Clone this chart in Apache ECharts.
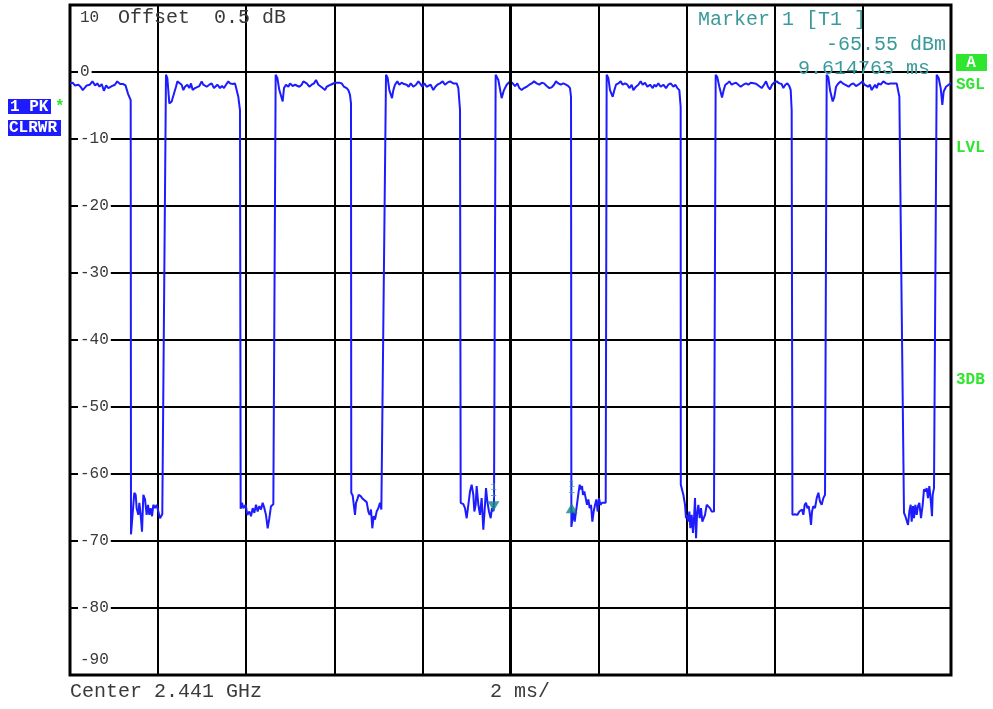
<!DOCTYPE html>
<html>
<head>
<meta charset="utf-8">
<script src="https://cdn.jsdelivr.net/npm/echarts@6/dist/echarts.min.js"></script>
<style>
  html, body { margin: 0; padding: 0; background: #fff; }
  #chart { width: 993px; height: 709px; }
</style>
</head>
<body>
<div id="chart"></div>
<script>
// Zero-span sweep, 2 ms/div, reference level +10 dB, 10 dB/div.
// Trace vertices as [time in ms, level in dB], one array per burst slot.
const slot0 = [
  [0.00,-1.7],[0.06,-1.6],[0.11,-2.0],[0.19,-1.9],[0.24,-2.2],[0.29,-2.7],[0.38,-2.0],[0.45,-1.9],
  [0.51,-1.4],[0.57,-2.0],[0.62,-1.7],[0.67,-2.2],[0.72,-1.8],[0.77,-2.8],[0.82,-2.0],[0.87,-2.4],
  [0.95,-2.1],[1.02,-1.9],[1.07,-1.4],[1.14,-1.8],[1.21,-1.8],[1.26,-2.0],[1.32,-3.3],[1.378,-4.2],
  [1.385,-69.0],[1.423,-68.8],[1.460,-62.8],[1.491,-63.1],[1.513,-65.1],[1.551,-66.1],[1.574,-64.3],
  [1.604,-66.1],[1.635,-68.6],[1.665,-63.1],[1.703,-63.8],[1.740,-66.1],[1.771,-64.6],[1.801,-66.1],
  [1.831,-65.1],[1.862,-66.3],[1.892,-64.6],[1.930,-65.1],[1.967,-64.6],[2.005,-64.8],[2.043,-66.6],
  [2.081,-66.8],[2.095,-66.0]
];
const slot1 = [
  [2.179,-0.4],[2.210,-0.9],[2.255,-4.7],[2.308,-4.4],[2.361,-3.2],[2.406,-2.2],[2.437,-1.4],[2.482,-1.6],
  [2.535,-1.9],[2.573,-2.7],[2.611,-2.2],[2.664,-1.9],[2.709,-2.4],[2.747,-1.7],[2.785,-2.7],[2.838,-2.4],
  [2.876,-2.2],[2.936,-2.1],[2.989,-1.4],[3.027,-1.9],[3.065,-1.7],[3.103,-2.2],[3.163,-1.9],[3.216,-1.7],
  [3.269,-2.4],[3.307,-2.2],[3.345,-1.9],[3.405,-2.4],[3.451,-2.1],[3.496,-2.4],[3.541,-1.9],[3.594,-1.4],
  [3.632,-1.7],[3.693,-1.8],[3.746,-1.7],[3.784,-1.9],[3.821,-3.7],[3.859,-5.7],
  [3.874,-65.2],[3.905,-64.3],[3.935,-65.1],[3.988,-64.6],[4.026,-66.1],[4.071,-65.6],[4.109,-66.3],
  [4.147,-65.1],[4.185,-65.8],[4.222,-64.6],[4.260,-65.6],[4.298,-64.8],[4.336,-65.3],[4.374,-64.3],
  [4.412,-65.1],[4.449,-66.1],[4.487,-68.1],[4.525,-66.6],[4.563,-64.8],[4.601,-64.8],[4.616,-64.5]
];
const slot2 = [
  [4.669,-0.4],[4.707,-0.9],[4.752,-2.7],[4.828,-4.4],[4.858,-2.4],[4.904,-1.9],[4.957,-2.2],[4.994,-1.7],
  [5.055,-2.1],[5.108,-1.9],[5.146,-1.7],[5.206,-2.2],[5.259,-1.9],[5.297,-1.4],[5.373,-1.7],[5.433,-2.2],
  [5.486,-1.9],[5.539,-1.7],[5.585,-1.2],[5.638,-1.9],[5.675,-1.7],[5.736,-2.4],[5.789,-2.7],[5.827,-2.2],
  [5.865,-2.4],[5.918,-1.9],[5.963,-1.7],[6.016,-1.6],[6.054,-1.4],[6.114,-1.6],[6.167,-1.7],[6.220,-2.2],
  [6.281,-2.4],[6.319,-2.7],[6.356,-3.4],[6.379,-4.7],
  [6.385,-62.8],[6.417,-63.2],[6.440,-63.1],[6.470,-66.1],[6.493,-64.3],[6.523,-63.8],[6.553,-63.1],
  [6.599,-63.3],[6.644,-63.7],[6.689,-63.8],[6.735,-64.2],[6.773,-65.6],[6.803,-66.1],[6.833,-65.3],
  [6.863,-68.1],[6.894,-66.3],[6.924,-66.8],[6.962,-65.6],[7.000,-65.1],[7.037,-64.3],[7.068,-65.3],
  [7.098,-65.3]
];
const slot3 = [
  [7.174,-0.4],[7.212,-0.9],[7.249,-2.7],[7.310,-3.9],[7.340,-2.7],[7.378,-1.9],[7.431,-1.4],[7.476,-1.9],
  [7.529,-1.6],[7.582,-1.8],[7.643,-1.9],[7.688,-2.2],[7.734,-1.7],[7.794,-2.2],[7.855,-1.9],[7.908,-1.4],
  [7.946,-1.7],[7.998,-2.2],[8.044,-1.7],[8.097,-2.2],[8.142,-2.4],[8.188,-1.9],[8.248,-2.7],[8.294,-2.2],
  [8.339,-1.9],[8.400,-1.7],[8.460,-1.4],[8.513,-1.9],[8.566,-1.6],[8.627,-1.4],[8.702,-1.7],[8.778,-1.7],
  [8.816,-2.4],[8.854,-5.7],
  [8.869,-64.3],[8.929,-64.5],[8.967,-65.1],[9.005,-66.6],[9.043,-64.6],[9.081,-62.6],[9.118,-61.6],
  [9.156,-63.1],[9.179,-65.6],[9.209,-64.6],[9.232,-61.8],[9.270,-64.6],[9.307,-66.1],[9.345,-63.6],
  [9.383,-68.3],[9.421,-64.6],[9.444,-62.1],[9.474,-64.1],[9.512,-65.6],[9.550,-66.6],[9.580,-65.1],
  [9.614763,-65.55],[9.626,-64.0]
];
const slot4 = [
  [9.663,-0.4],[9.724,-1.2],[9.799,-3.9],[9.852,-2.7],[9.913,-1.9],[9.989,-1.4],[10.050,-1.7],[10.103,-2.1],
  [10.155,-1.7],[10.201,-2.4],[10.254,-2.7],[10.307,-2.4],[10.367,-2.2],[10.428,-1.9],[10.481,-1.7],
  [10.534,-1.4],[10.594,-1.7],[10.655,-1.9],[10.708,-1.6],[10.761,-1.7],[10.821,-2.1],[10.882,-2.4],
  [10.935,-2.3],[10.988,-1.9],[11.033,-1.4],[11.086,-1.7],[11.139,-1.9],[11.200,-1.7],[11.260,-1.9],
  [11.313,-2.1],[11.351,-2.4],[11.374,-3.7],
  [11.382,-67.9],[11.427,-65.6],[11.457,-67.1],[11.487,-65.6],[11.518,-64.1],[11.548,-62.6],[11.571,-61.6],
  [11.601,-62.3],[11.624,-61.8],[11.646,-63.1],[11.676,-62.6],[11.707,-63.6],[11.737,-64.6],[11.767,-63.8],
  [11.797,-65.1],[11.828,-64.6],[11.858,-67.1],[11.888,-65.6],[11.919,-64.6],[11.949,-63.8],[11.979,-65.6],
  [12.009,-63.6],[12.040,-64.6],[12.078,-64.3],[12.123,-64.3],[12.161,-64.3]
];
const slot5 = [
  [12.183,-0.4],[12.221,-0.9],[12.259,-2.7],[12.320,-3.7],[12.358,-2.7],[12.395,-1.9],[12.448,-1.7],
  [12.501,-1.4],[12.547,-1.9],[12.600,-1.7],[12.653,-1.9],[12.698,-2.4],[12.751,-1.9],[12.789,-2.7],
  [12.849,-2.2],[12.902,-1.9],[12.955,-1.4],[13.001,-1.9],[13.054,-1.6],[13.107,-2.2],[13.167,-1.9],
  [13.228,-2.4],[13.266,-1.9],[13.303,-2.2],[13.356,-1.7],[13.409,-2.2],[13.470,-1.9],[13.530,-2.4],
  [13.583,-1.9],[13.636,-1.7],[13.697,-2.2],[13.742,-1.9],[13.788,-2.4],[13.833,-2.7],[13.863,-5.2],
  [13.866,-61.6],[13.924,-63.1],[13.962,-64.6],[13.984,-66.6],[14.015,-66.1],[14.037,-67.1],[14.060,-65.6],
  [14.083,-68.1],[14.113,-66.1],[14.143,-68.8],[14.166,-66.6],[14.189,-63.6],[14.212,-69.6],[14.234,-66.1],
  [14.265,-64.6],[14.295,-66.6],[14.325,-65.1],[14.355,-67.1],[14.386,-66.6],[14.416,-66.1],[14.454,-64.6],
  [14.491,-64.8],[14.529,-65.1],[14.567,-65.6],[14.620,-65.6]
];
const slot6 = [
  [14.658,-0.4],[14.696,-0.8],[14.741,-2.2],[14.802,-3.8],[14.840,-2.7],[14.877,-1.9],[14.923,-1.7],
  [14.968,-1.4],[15.021,-1.9],[15.074,-1.7],[15.120,-1.6],[15.173,-1.9],[15.226,-2.2],[15.286,-1.9],
  [15.347,-1.7],[15.400,-1.9],[15.453,-1.6],[15.498,-1.4],[15.551,-1.7],[15.604,-1.9],[15.649,-1.7],
  [15.702,-2.4],[15.755,-1.9],[15.801,-1.4],[15.846,-2.2],[15.891,-2.6],[15.937,-1.9],[15.982,-1.6],
  [16.043,-1.4],[16.103,-1.7],[16.156,-1.8],[16.194,-2.4],[16.239,-1.9],[16.285,-1.7],[16.330,-2.1],
  [16.361,-2.7],[16.383,-5.7],
  [16.400,-66.1],[16.459,-66.0],[16.512,-66.1],[16.557,-65.6],[16.588,-65.8],[16.618,-65.3],[16.648,-66.1],
  [16.678,-64.6],[16.709,-64.3],[16.739,-65.1],[16.769,-64.8],[16.799,-66.1],[16.822,-67.6],[16.845,-65.6],
  [16.875,-64.8],[16.913,-65.1],[16.951,-63.6],[16.989,-62.8],[17.026,-64.1],[17.064,-64.6],[17.102,-63.6],
  [17.140,-63.1]
];
const slot7 = [
  [17.178,-0.4],[17.216,-0.8],[17.253,-2.7],[17.314,-4.4],[17.352,-3.7],[17.390,-2.2],[17.443,-1.7],
  [17.496,-1.4],[17.541,-1.7],[17.594,-1.9],[17.632,-1.7],[17.677,-2.2],[17.723,-1.9],[17.783,-1.7],
  [17.844,-2.1],[17.897,-1.9],[17.935,-1.7],[17.995,-1.4],[18.033,-1.9],[18.071,-1.7],[18.124,-2.2],
  [18.161,-1.9],[18.199,-2.7],[18.237,-2.3],[18.275,-1.9],[18.313,-2.4],[18.351,-1.7],[18.404,-1.9],
  [18.464,-1.4],[18.525,-1.7],[18.578,-1.8],[18.631,-1.7],[18.691,-1.7],[18.767,-1.7],[18.805,-1.9],
  [18.828,-3.7],[18.880,-35.0],
  [18.933,-65.8],[18.964,-66.3],[18.994,-66.1],[19.024,-67.6],[19.054,-65.6],[19.085,-64.6],[19.107,-67.1],
  [19.138,-64.8],[19.160,-66.6],[19.191,-64.6],[19.221,-66.1],[19.251,-64.8],[19.281,-64.3],[19.319,-66.6],
  [19.357,-64.6],[19.387,-62.3],[19.418,-62.6],[19.448,-62.1],[19.478,-63.6],[19.508,-61.8],[19.538,-63.8],
  [19.569,-66.3],[19.584,-63.1],[19.614,-62.1]
];
const slot8 = [
  [19.675,-0.4],[19.720,-0.9],[19.766,-2.4],[19.803,-4.9],[19.834,-2.9],[19.887,-2.2],[19.947,-1.9],[20.000,-1.7]
];

// Markers (time in ms, level in dB)
const markerMs = [9.614763, 11.389];
const markerDb = [-65.55, -65.1];

// Axis scale
const timeSpanMs = [0, 20];
const timeStepMs = 2;
const levelRangeDb = [-90, 10];
const levelStepDb = 10;

// Annotation texts
const refLevelLabel = '10';
const bottomLevelLabel = '-90';
const offsetText = 'Offset  0.5 dB';
const markerTitle = 'Marker 1 [T1 ]';
const markerLevelText = '-65.55 dBm';
const markerTimeText = '9.614763 ms';
const centerText = 'Center 2.441 GHz';
const spanText = '2 ms/';
const traceTags = ['1 PK', 'CLRWR'];
const sideTags = ['SGL', 'LVL', '3DB'];

const trace = [].concat(slot0, slot1, slot2, slot3, slot4, slot5, slot6, slot7, slot8);

const MONO = "'Liberation Mono', 'DejaVu Sans Mono', monospace";
const TEAL = '#3a9a9a';
const GREEN = '#2ee62e';
const BLUE = '#1c1cff';
const TEXT = '#3a3a3a';

const chart = echarts.init(document.getElementById('chart'), null, { renderer: 'canvas' });

function txt(x, y, text, opt) {
  return {
    type: 'text', x: x, y: y, z: 100,
    style: Object.assign({
      text: text, fill: TEXT, font: '20px ' + MONO, align: 'left', verticalAlign: 'middle'
    }, opt || {})
  };
}

chart.setOption({
  animation: false,
  backgroundColor: '#fff',
  grid: {
    left: 70, right: 42, top: 5, bottom: 34,
    show: true, borderColor: '#000', borderWidth: 3, backgroundColor: 'transparent'
  },
  xAxis: {
    type: 'value', min: timeSpanMs[0], max: timeSpanMs[1], interval: timeStepMs,
    axisLine: { show: false }, axisTick: { show: false }, axisLabel: { show: false },
    splitLine: { show: true, lineStyle: { color: '#000', width: 2 } }
  },
  yAxis: {
    type: 'value', min: levelRangeDb[0], max: levelRangeDb[1], interval: levelStepDb,
    axisLine: { show: false }, axisTick: { show: false },
    axisLabel: {
      inside: true, margin: 8, color: TEXT, fontFamily: MONO, fontSize: 16,
      backgroundColor: '#fff', padding: [0, 2],
      formatter: function (v) { return (v === levelRangeDb[0] || v === levelRangeDb[1]) ? '' : String(v); }
    },
    splitLine: { show: true, lineStyle: { color: '#000', width: 2 } }
  },
  series: [
    {
      // centre division line
      type: 'line', data: [], z: 1, silent: true,
      markLine: {
        silent: true, symbol: 'none', label: { show: false },
        lineStyle: { color: '#000', width: 3, type: 'solid' },
        data: [{ xAxis: (timeSpanMs[0] + timeSpanMs[1]) / 2 }]
      }
    },
    {
      type: 'line', data: trace, z: 3, showSymbol: false, symbol: 'none',
      lineStyle: { color: BLUE, width: 2 }, silent: true
    },
    {
      type: 'scatter', z: 4, silent: true,
      data: [[markerMs[0], markerDb[0]]],
      symbol: 'path://M0 0 L12 0 L6 10 Z', symbolSize: [12, 10], symbolOffset: [0, -5],
      itemStyle: { color: '#108585' },
      label: { show: true, position: 'top', distance: 1, formatter: '1\n+', color: TEAL,
               fontFamily: MONO, fontSize: 11, lineHeight: 9 }
    },
    {
      type: 'scatter', z: 4, silent: true,
      data: [[markerMs[1], markerDb[1]]],
      symbol: 'path://M6 0 L12 10 L0 10 Z', symbolSize: [12, 10],
      itemStyle: { color: '#108585' },
      label: { show: true, position: 'top', distance: 6, formatter: '1\n+', color: TEAL,
               fontFamily: MONO, fontSize: 11, lineHeight: 9 }
    }
  ],
  graphic: [
    txt(80, 18, refLevelLabel, { font: '16px ' + MONO }),
    txt(80, 660, bottomLevelLabel, { font: '16px ' + MONO }),
    txt(118, 18, offsetText),
    txt(698, 20, markerTitle, { fill: TEAL }),
    txt(946, 45, markerLevelText, { fill: TEAL, align: 'right' }),
    txt(798, 69, markerTimeText, { fill: TEAL }),
    txt(70, 692, centerText),
    txt(490, 692, spanText),
    // trace info tags on the left
    { type: 'rect', z: 100, shape: { x: 8, y: 99, width: 43, height: 15 }, style: { fill: BLUE } },
    txt(10, 107, traceTags[0], { fill: '#fff', font: 'bold 16px ' + MONO }),
    txt(55, 107, '*', { fill: GREEN, font: 'bold 16px ' + MONO }),
    { type: 'rect', z: 100, shape: { x: 8, y: 120, width: 53, height: 16 }, style: { fill: BLUE } },
    txt(9, 128, traceTags[1], { fill: '#fff', font: 'bold 16px ' + MONO }),
    // status flags on the right
    { type: 'rect', z: 100, shape: { x: 956, y: 54, width: 31, height: 17 }, style: { fill: GREEN } },
    txt(971, 63, 'A', { fill: '#fff', font: 'bold 16px ' + MONO, align: 'center' }),
    txt(956, 85, sideTags[0], { fill: GREEN, font: 'bold 16px ' + MONO }),
    txt(956, 148, sideTags[1], { fill: GREEN, font: 'bold 16px ' + MONO }),
    txt(956, 380, sideTags[2], { fill: GREEN, font: 'bold 16px ' + MONO })
  ]
});
</script>
</body>
</html>
